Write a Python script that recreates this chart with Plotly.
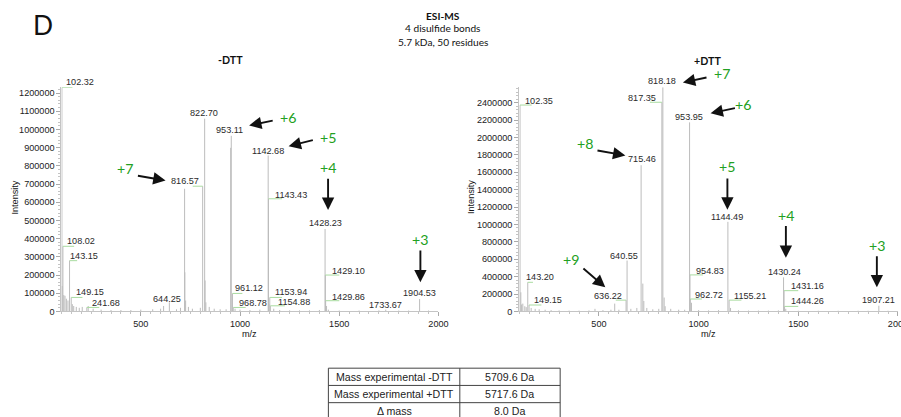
import plotly.graph_objects as go

# reference frame (pixels of the 901x417 picture) and the page size that maps onto it
W, H = 901, 417
PAGE_W, PAGE_H = 914, 423
FS = PAGE_W / W  # font scale so text keeps the reference size

# ---------------- data: -DTT spectrum ----------------
L_lab_text = ["102.32", "108.02", "143.15", "149.15", "241.68", "644.25", "816.57", "822.70",
              "953.11", "961.12", "968.78", "1142.68", "1143.43", "1153.94", "1154.88",
              "1428.23", "1429.10", "1429.86", "1733.67", "1904.53"]
L_lab_mz = [102.5, 107.6, 141, 149.5, 228, 644, 811.8, 821.9, 955.9, 962, 966, 1142, 1143.6,
            1150, 1153, 1428.6, 1430, 1431.6, 1734.5, 1905]
L_lab_int = [1231000, 358000, 279000, 77000, 22000, 50000, 688000, 1059000, 965000, 99000,
             22000, 857000, 619000, 77000, 31000, 453000, 200000, 59000, 10000, 68000]
L_lab_x = [110.6, 119.2, 134.4, 161.2, 245.6, 631, 801.7, 816.9, 949.3, 967, 983.7, 1143,
           1167, 1167, 1181, 1428.6, 1455.4, 1455.4, 1732, 1905]
L_lab_y = [1260000, 385000, 303000, 108000, 44000, 70000, 719000, 1090000, 998000, 129000,
           44000, 884000, 642000, 108000, 53000, 484000, 224000, 81000, 35000, 99000]
L_lab_side = ["l", "l", "l", "l", "l", "c", "r", "c", "c", "l", "l", "c", "l", "l", "l",
              "c", "l", "l", "c", "c"]

L_minor_mz = [104, 112, 118, 125, 133, 155, 162, 175, 190, 205, 235, 260, 300, 350, 400, 450,
              500, 560, 600, 615, 680, 700, 720.8, 722, 726, 740, 760, 800, 824, 828, 845, 870,
              900, 930, 953, 975, 1000, 1050, 1100, 1146, 1170, 1200, 1250, 1300, 1350, 1400,
              1436, 1445, 1500, 1600, 1700, 1800, 1850, 1950]
L_minor_int = [140000, 90000, 86000, 70000, 60000, 40000, 30000, 25000, 20000, 25000, 30000,
               15000, 10000, 8000, 8000, 8000, 10000, 12000, 15000, 30000, 12000, 20000, 674000,
               215000, 60000, 25000, 15000, 20000, 170000, 50000, 25000, 15000, 12000, 12000,
               899000, 15000, 10000, 8000, 10000, 40000, 15000, 8000, 6000, 6000, 6000, 8000,
               30000, 10000, 5000, 5000, 6000, 5000, 5000, 5000]

L_arrow_charge = ["+7", "+6", "+5", "+4", "+3"]
L_arrow_text_mz = [418, 1244, 1443.8, 1443.8, 1909]
L_arrow_text_int = [784000, 1068000, 958000, 789000, 393000]
L_arrow_tail_mz = [478, 1172.3, 1374.5, 1443.8, 1909]
L_arrow_tail_int = [747000, 1050000, 943000, 737500, 343000]
L_arrow_head_mz = [624.8, 1046, 1245, 1443.8, 1909]
L_arrow_head_int = [719000, 1022000, 908000, 558000, 160000]
L_ymax = 1232000

# ---------------- data: +DTT spectrum ----------------
R_lab_text = ["102.35", "143.20", "149.15", "636.22", "640.55", "715.46", "817.35", "818.18",
              "953.95", "954.83", "962.72", "1144.49", "1155.21", "1430.24", "1431.16",
              "1444.26", "1907.21"]
R_lab_mz = [104, 142.8, 149.3, 636, 641, 711.5, 815.6, 820.6, 954.5, 956.5, 958, 1146.8,
            1152.9, 1426, 1428.6, 1431, 1904]
R_lab_int = [2373000, 335000, 74000, 130000, 585000, 1681000, 2405000, 2578000, 2174000,
             420000, 143000, 1030000, 130000, 392000, 239000, 58000, 66000]
R_lab_x = [117.6, 124, 166.4, 624.4, 625, 715.5, 795.5, 818.7, 951.5, 976.7, 971.7, 1144.3,
           1169.5, 1430, 1454.8, 1454.8, 1901]
R_lab_y = [2423000, 392000, 132000, 181000, 643000, 1750000, 2458000, 2654000, 2238000,
           470000, 193000, 1085000, 181000, 458000, 297000, 115000, 135000]
R_lab_side = ["l", "l", "l", "r", "c", "c", "r", "c", "c", "l", "l", "c", "l", "c", "l", "l", "c"]

R_minor_mz = [108, 112, 118, 128, 135, 160, 180, 200, 230, 260, 300, 350, 400, 450, 480, 520,
              560, 579, 600, 660, 690, 720, 725, 740, 770, 800, 827, 832, 860, 900, 930, 964,
              1000, 1050, 1100, 1160, 1200, 1250, 1300, 1350, 1400, 1437, 1500, 1600, 1700,
              1800, 1850, 1950]
R_minor_int = [220000, 80000, 90000, 60000, 50000, 40000, 30000, 25000, 20000, 15000, 12000,
               10000, 10000, 12000, 30000, 15000, 20000, 90000, 20000, 30000, 40000, 320000,
               120000, 40000, 25000, 30000, 160000, 60000, 30000, 20000, 20000, 100000, 15000,
               12000, 15000, 40000, 12000, 10000, 10000, 10000, 12000, 30000, 8000, 8000,
               8000, 8000, 8000, 8000]

R_arrow_charge = ["+7", "+6", "+8", "+9", "+5", "+4", "+3"]
R_arrow_text_mz = [1119, 1225, 429.6, 359, 1144.3, 1437.7, 1894]
R_arrow_text_int = [2731000, 2381000, 1931000, 593000, 1661000, 1104000, 758000]
R_arrow_tail_mz = [1047, 1189.6, 485, 414.5, 1144.3, 1437.7, 1894]
R_arrow_tail_int = [2693000, 2342000, 1854000, 508000, 1546000, 1000000, 651000]
R_arrow_head_mz = [921, 1060, 632.5, 531.8, 1144.3, 1437.7, 1894]
R_arrow_head_int = [2631000, 2278000, 1793000, 277000, 1170000, 616000, 277000]
R_ymax = 2578000

# ---------------- data: table ----------------
tbl_col1 = ["Mass experimental -DTT", "Mass experimental +DTT", "Δ mass"]
tbl_col2 = ["5709.6 Da", "5717.6 Da", "8.0 Da"]

# ---------------- styling ----------------
STICK = "#bcbcbc"
LEADER = "#a9dca0"
GREEN = "#22a022"
SANS = "Liberation Sans, Arial, sans-serif"
LBL_FONT = dict(family=SANS, size=9 * FS, color="#2a2a2a")
TICK_FONT = dict(family=SANS, size=9 * FS, color="#222")
TITLE_FAMILY = "Lato, Calibri, sans-serif"

fig = go.Figure()


def px_x(p):
    return p / W


def px_y(p):
    return 1 - p / H


def add_panel(xa, ya, ymax, lab_mz, lab_int, lab_text, lab_x, lab_y, lab_side,
              minor_mz, minor_int, ch, tmz, tint, amz, aint, hmz, hint):
    yd = ya + " domain"
    sx, sy = [], []
    for m, v in zip(list(minor_mz) + list(lab_mz), list(minor_int) + list(lab_int)):
        sx += [m, m, None]
        sy += [0, v, None]
    fig.add_trace(go.Scatter(x=sx, y=sy, mode="lines", xaxis=xa, yaxis=ya,
                             line=dict(color=STICK, width=1), hoverinfo="skip",
                             showlegend=False))
    lx, ly = [], []
    for m, v, x, s in zip(lab_mz, lab_int, lab_x, lab_side):
        if s == "l":
            lx += [m, x + 45, None]
            ly += [v, v, None]
        elif s == "r":
            lx += [x - 40, m, None]
            ly += [v, v, None]
    fig.add_trace(go.Scatter(x=lx, y=ly, mode="lines", xaxis=xa, yaxis=ya,
                             line=dict(color=LEADER, width=1), hoverinfo="skip",
                             showlegend=False))
    anchor = {"l": "left", "r": "right", "c": "center"}
    for t, x, y, s in zip(lab_text, lab_x, lab_y, lab_side):
        fig.add_annotation(x=x, y=y / ymax, xref=xa, yref=yd, text=t, showarrow=False,
                           xanchor=anchor[s], yanchor="middle", font=LBL_FONT)
    for c, x, y in zip(ch, tmz, tint):
        fig.add_annotation(x=x, y=y / ymax, xref=xa, yref=yd, text=c, showarrow=False,
                           xanchor="center", yanchor="middle",
                           font=dict(family=TITLE_FAMILY, size=14 * FS, color=GREEN))
    for x0, y0, x1, y1 in zip(amz, aint, hmz, hint):
        fig.add_annotation(x=x1, y=y1 / ymax, ax=x0, ay=y0 / ymax, xref=xa, yref=yd,
                           axref=xa, ayref=yd, text="", showarrow=True,
                           arrowhead=2, arrowsize=1.3, arrowwidth=1.9,
                           arrowcolor="#111", standoff=0, startstandoff=0)


add_panel("x", "y", L_ymax, L_lab_mz, L_lab_int, L_lab_text, L_lab_x, L_lab_y, L_lab_side,
          L_minor_mz, L_minor_int, L_arrow_charge, L_arrow_text_mz, L_arrow_text_int,
          L_arrow_tail_mz, L_arrow_tail_int, L_arrow_head_mz, L_arrow_head_int)
add_panel("x2", "y2", R_ymax, R_lab_mz, R_lab_int, R_lab_text, R_lab_x, R_lab_y, R_lab_side,
          R_minor_mz, R_minor_int, R_arrow_charge, R_arrow_text_mz, R_arrow_text_int,
          R_arrow_tail_mz, R_arrow_tail_int, R_arrow_head_mz, R_arrow_head_int)

xcommon = dict(range=[100, 2000], tickvals=[500, 1000, 1500, 2000], ticks="outside",
               ticklen=4, tickcolor="#aaa", showline=True, linecolor="#c4c4c4",
               linewidth=1, showgrid=False, zeroline=False, tickfont=TICK_FONT,
               ticklabeloverflow="allow",
               minor=dict(dtick=50, tick0=0, ticks="outside", ticklen=2, tickcolor="#c4c4c4"))
ycommon = dict(ticks="outside", ticklen=4, tickcolor="#aaa", showline=True,
               linecolor="#c4c4c4", linewidth=1, showgrid=False, zeroline=False,
               tickformat="d", tickfont=TICK_FONT)
ydom = [px_y(310.7), px_y(87)]

fig.update_layout(
    width=PAGE_W, height=PAGE_H, margin=dict(l=0, r=0, t=0, b=0),
    paper_bgcolor="white", plot_bgcolor="white", showlegend=False,
    xaxis=dict(domain=[px_x(61.2), px_x(437)], anchor="y", **xcommon),
    yaxis=dict(domain=ydom, anchor="x", range=[0, L_ymax], dtick=100000,
               minor=dict(dtick=20000, ticks="outside", ticklen=2, tickcolor="#c4c4c4"),
               **ycommon),
    xaxis2=dict(domain=[px_x(517.5), px_x(895)], anchor="y2", **xcommon),
    yaxis2=dict(domain=ydom, anchor="x2", range=[0, R_ymax], dtick=200000,
                minor=dict(dtick=40000, ticks="outside", ticklen=2, tickcolor="#c4c4c4"),
                **ycommon),
)


def ptext(x, y, text, size, bold=False, family=TITLE_FAMILY, angle=0, color="#111"):
    fig.add_annotation(x=px_x(x), y=px_y(y), xref="paper", yref="paper", text=text,
                       showarrow=False, xanchor="center", yanchor="middle", textangle=angle,
                       font=dict(family=family, size=size * FS, color=color,
                                 weight="bold" if bold else "normal"))


ptext(43, 25, "D", 26)
ptext(442, 15.7, "ESI-MS", 10, bold=True)
ptext(442, 28.3, "4 disulfide bonds", 10)
ptext(442, 41.7, "5.7 kDa, 50 residues", 10)
ptext(230, 59.3, "-DTT", 10.5, bold=True)
ptext(705, 60.7, "+DTT", 10.5, bold=True)
ptext(15, 197, "Intensity", 9, family=SANS, angle=-90)
ptext(470, 197, "Intensity", 9, family=SANS, angle=-90)
ptext(249, 333, "m/z", 9, family=SANS)
ptext(706, 333, "m/z", 9, family=SANS)

# table
tx = [327.3, 458.3, 558.3]
ty0, rh = 367.3, 17.2
nrows = len(tbl_col1)
for i in range(nrows + 1):
    yy = ty0 + i * rh
    fig.add_shape(type="line", xref="paper", yref="paper", x0=px_x(tx[0]), x1=px_x(tx[2]),
                  y0=px_y(yy), y1=px_y(yy), line=dict(color="#444", width=1))
for xx in tx:
    fig.add_shape(type="line", xref="paper", yref="paper", x0=px_x(xx), x1=px_x(xx),
                  y0=px_y(ty0), y1=px_y(ty0 + nrows * rh), line=dict(color="#444", width=1))
for i, (a, b) in enumerate(zip(tbl_col1, tbl_col2)):
    yc = ty0 + rh * (i + 0.5)
    for txt, xc in ((a, (tx[0] + tx[1]) / 2), (b, (tx[1] + tx[2]) / 2)):
        fig.add_annotation(x=px_x(xc), y=px_y(yc), xref="paper", yref="paper", text=txt,
                           showarrow=False, xanchor="center", yanchor="middle",
                           font=dict(family=SANS, size=10.5 * FS, color="#222"))

fig.write_html("out.html", config={"displayModeBar": False},
               post_script="document.documentElement.style.margin='0';"
                           "document.body.style.margin='0';")
